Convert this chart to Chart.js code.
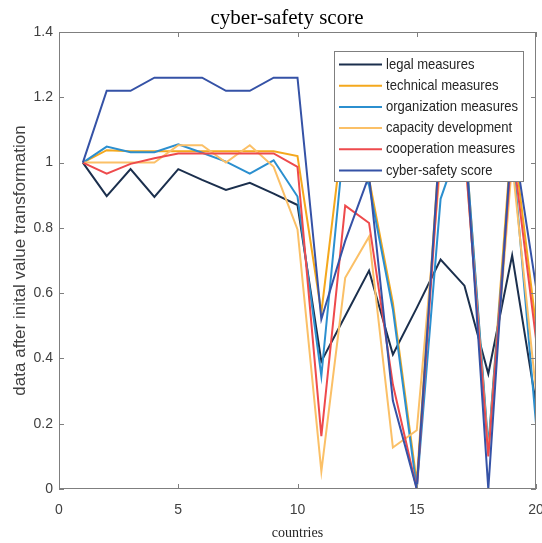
<!DOCTYPE html>
<html>
<head>
<meta charset="utf-8">
<script src="https://cdn.jsdelivr.net/npm/chart.js@4/dist/chart.umd.min.js"></script>
<style>
    html, body { margin: 0; padding: 0; background: #fff; }
    #wrap { width: 542px; height: 543px; }
</style>
</head>
<body>
<div id="wrap"><canvas id="chart" width="542" height="543"></canvas></div>
<script>
// countries 1..20
const countries = [1, 2, 3, 4, 5, 6, 7, 8, 9, 10, 11, 12, 13, 14, 15, 16, 17, 18, 19, 20];

const legalMeasures = [1.0, 0.897, 0.98, 0.895, 0.98, 0.947, 0.916, 0.938, 0.905, 0.87,
    0.391, 0.53, 0.669, 0.412, 0.555, 0.703, 0.623, 0.353, 0.716, 0.26];
const technicalMeasures = [1.0, 1.038, 1.035, 1.035, 1.035, 1.035, 1.035, 1.035, 1.035, 1.02,
    0.54, 1.15, 0.95, 0.57, 0.02, 1.1, 1.1, 0.12, 1.1, 0.5];
const organizationMeasures = [1.0, 1.049, 1.032, 1.032, 1.056, 1.03, 1.003, 0.966, 1.007, 0.896,
    0.346, 1.1, 0.93, 0.55, 0.0, 0.889, 1.1, 0.13, 1.05, 0.2];
const capacityDevelopment = [1.0, 1.0, 1.0, 1.0, 1.053, 1.053, 1.0, 1.053, 0.987, 0.795,
    0.054, 0.647, 0.773, 0.127, 0.18, 1.0, 1.05, 0.11, 1.0, 0.3];
const cooperationMeasures = [1.0, 0.966, 0.996, 1.013, 1.028, 1.028, 1.028, 1.028, 1.028, 0.987,
    0.162, 0.868, 0.815, 0.32, 0.0, 1.05, 1.05, 0.1, 1.05, 0.46];
const cyberSafetyScore = [1.0, 1.22, 1.22, 1.26, 1.26, 1.26, 1.22, 1.22, 1.26, 1.26,
    0.52, 0.76, 0.96, 0.27, 0.0, 1.1, 1.1, 0.0, 1.1, 0.62];

const seriesNames = ['legal measures', 'technical measures', 'organization measures',
    'capacity development', 'cooperation measures', 'cyber-safety score'];
const seriesValues = [legalMeasures, technicalMeasures, organizationMeasures,
    capacityDevelopment, cooperationMeasures, cyberSafetyScore];
const seriesColors = ['#1b2f4d', '#f4a81d', '#2b8fcf', '#fbc067', '#ee4a4c', '#3552a6'];

const xTicks = [0, 5, 10, 15, 20];
const yTicks = [0, 0.2, 0.4, 0.6, 0.8, 1.0, 1.2, 1.4];

const axisGray = '#7f7f7f';
const textGray = '#404040';

// box + inward ticks, MATLAB style
const framePlugin = {
    id: 'frame',
    afterDatasetsDraw(chart) {
        const { ctx, chartArea: a, scales } = chart;
        ctx.save();
        ctx.strokeStyle = axisGray;
        ctx.lineWidth = 1;
        ctx.strokeRect(a.left + 0.5, a.top + 0.5, a.right - a.left - 1, a.bottom - a.top - 1);
        ctx.beginPath();
        xTicks.forEach(v => {
            const x = Math.round(scales.x.getPixelForValue(v)) + 0.5;
            ctx.moveTo(x, a.bottom); ctx.lineTo(x, a.bottom - 5);
            ctx.moveTo(x, a.top); ctx.lineTo(x, a.top + 5);
        });
        yTicks.forEach(v => {
            const y = Math.round(scales.y.getPixelForValue(v)) + 0.5;
            ctx.moveTo(a.left, y); ctx.lineTo(a.left + 5, y);
            ctx.moveTo(a.right, y); ctx.lineTo(a.right - 5, y);
        });
        ctx.stroke();
        ctx.restore();
    }
};

// legend box inside the plot, drawn over the lines
const legendBoxPlugin = {
    id: 'legendBox',
    afterDraw(chart) {
        const { ctx } = chart;
        const left = 334, top = 51, width = 189, height = 130;
        ctx.save();
        ctx.fillStyle = '#fff';
        ctx.fillRect(left, top, width, height);
        ctx.strokeStyle = axisGray;
        ctx.lineWidth = 1;
        ctx.strokeRect(left + 0.5, top + 0.5, width, height);
        ctx.font = '15px "Liberation Sans", Arial, sans-serif';
        ctx.textBaseline = 'middle';
        ctx.fillStyle = '#262626';
        chart.data.datasets.forEach((ds, i) => {
            const y = top + 13.5 + i * 21.2;
            ctx.strokeStyle = ds.borderColor;
            ctx.lineWidth = 2;
            ctx.beginPath();
            ctx.moveTo(339, y);
            ctx.lineTo(382, y);
            ctx.stroke();
            ctx.save();
            ctx.translate(386, y);
            ctx.scale(0.87, 1);
            ctx.fillText(ds.label, 0, 0);
            ctx.restore();
        });
        ctx.restore();
    }
};

const titlePlugin = {
    id: 'plotTitle',
    afterDraw(chart) {
        const { ctx } = chart;
        ctx.save();
        ctx.font = '21px "Liberation Serif", "Times New Roman", serif';
        ctx.fillStyle = '#000';
        ctx.textAlign = 'center';
        ctx.textBaseline = 'middle';
        ctx.fillText('cyber-safety score', 287, 18);
        ctx.restore();
    }
};

const datasets = seriesNames.map((name, i) => ({
    label: name,
    data: countries.map((c, j) => ({ x: c, y: seriesValues[i][j] })),
    borderColor: seriesColors[i],
    backgroundColor: seriesColors[i],
    borderWidth: 2,
    pointRadius: 0,
    tension: 0,
    fill: false,
    order: seriesNames.length - i
}));

new Chart(document.getElementById('chart').getContext('2d'), {
    type: 'line',
    data: { datasets: datasets },
    plugins: [framePlugin, legendBoxPlugin, titlePlugin],
    options: {
        responsive: false,
        animation: false,
        layout: { padding: { top: 32, right: 6, bottom: 0, left: 0 } },
        plugins: {
            legend: { display: false },
            title: { display: false },
            tooltip: { enabled: false }
        },
        scales: {
            x: {
                type: 'linear',
                min: 0,
                max: 20,
                grid: { display: false, drawTicks: false },
                border: { display: false },
                afterBuildTicks: scale => { scale.ticks = xTicks.map(v => ({ value: v })); },
                afterFit: scale => {
                    scale.height = 54;
                    scale.paddingLeft = 0;
                    scale.paddingRight = 0;
                },
                ticks: {
                    color: textGray,
                    padding: 13,
                    maxRotation: 0,
                    callback: value => String(value),
                    font: { family: '"Liberation Sans", Arial, sans-serif', size: 14 }
                },
                title: {
                    display: true,
                    text: 'countries',
                    color: '#262626',
                    padding: { top: 0, bottom: 1 },
                    font: { family: '"Liberation Serif", "Times New Roman", serif', size: 14 }
                }
            },
            y: {
                min: 0,
                max: 1.4,
                grid: { display: false, drawTicks: false },
                border: { display: false },
                afterBuildTicks: scale => { scale.ticks = yTicks.map(v => ({ value: v })); },
                afterFit: scale => {
                    scale.width = 59;
                    scale.paddingTop = 0;
                    scale.paddingBottom = 0;
                },
                ticks: {
                    color: textGray,
                    padding: 6,
                    callback: value => String(parseFloat(value.toFixed(1))),
                    font: { family: '"Liberation Sans", Arial, sans-serif', size: 14 }
                },
                title: {
                    display: true,
                    text: 'data after inital value transformation',
                    color: textGray,
                    padding: { top: 10, bottom: 0 },
                    font: { family: '"Liberation Sans", Arial, sans-serif', size: 17 }
                }
            }
        }
    }
});
</script>
</body>
</html>
